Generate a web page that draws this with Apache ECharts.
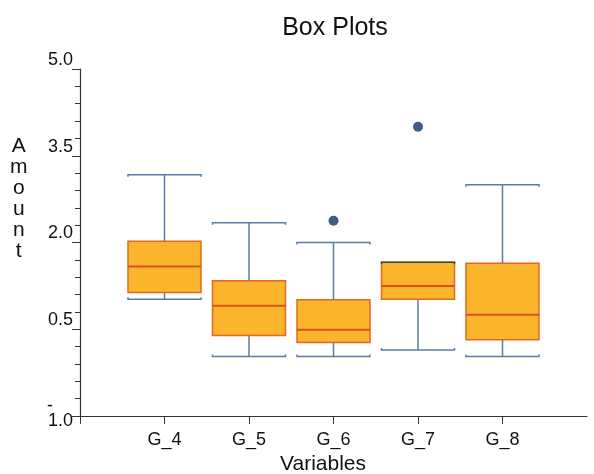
<!DOCTYPE html>
<html>
<head>
<meta charset="utf-8">
<script src="https://cdn.jsdelivr.net/npm/echarts@6/dist/echarts.min.js"></script>
<style>html,body{margin:0;padding:0;background:#fff;}#c{width:594px;height:474px;}</style>
</head>
<body>
<div id="c"></div>
<script>
// ---- data ----
var categories = ['G_4', 'G_5', 'G_6', 'G_7', 'G_8'];
var whiskerLow  = [1.02, 0.03, 0.03, 0.14, 0.03];
var q1Values    = [1.135, 0.39, 0.27, 1.02, 0.32];
var medians     = [1.585, 0.905, 0.49, 1.25, 0.75];
var q3Values    = [2.02, 1.34, 1.01, 1.66, 1.64];
var whiskerHigh = [3.17, 2.34, 2.0, 1.66, 3.0];
var outlierCats   = ['G_6', 'G_7'];
var outlierValues = [2.375, 4.0];
var yTicks = [-1.0, 0.5, 2.0, 3.5, 5.0];
var titleText = 'Box Plots';
var xTitle = 'Variables';
var yTitle = 'Amount';

// ---- build ----
var axisCats = [''].concat(categories).concat(['']);
var boxData = categories.map(function (c, i) {
  return [c, whiskerLow[i], q1Values[i], medians[i], q3Values[i], whiskerHigh[i]];
});
var outData = outlierCats.map(function (c, i) { return [c, outlierValues[i]]; });

var FONT = 'Liberation Sans, Arial, sans-serif';
var BOXW = 73;

function renderBox(params, api) {
  var x = api.value(0);
  var pMin = api.coord([x, api.value(1)]);
  var pQ1 = api.coord([x, api.value(2)]);
  var pMed = api.coord([x, api.value(3)]);
  var pQ3 = api.coord([x, api.value(4)]);
  var pMax = api.coord([x, api.value(5)]);
  var cx = pMed[0];
  var hw = BOXW / 2;
  var wStyle = { stroke: '#5a7ba6', lineWidth: 1.5, fill: null };
  var children = [
    { type: 'rect', shape: { x: cx - hw, y: pQ3[1], width: BOXW, height: pQ1[1] - pQ3[1] },
      style: { fill: '#fbb52c', stroke: '#e2691f', lineWidth: 1.5 } },
    { type: 'line', shape: { x1: cx - hw, y1: pMed[1], x2: cx + hw, y2: pMed[1] },
      style: { stroke: '#d9541c', lineWidth: 2 } },
    { type: 'line', shape: { x1: cx, y1: pQ3[1], x2: cx, y2: pMax[1] }, style: wStyle },
    { type: 'line', shape: { x1: cx, y1: pQ1[1], x2: cx, y2: pMin[1] }, style: wStyle },
    { type: 'polyline', shape: { points: [[cx - hw, pMax[1] + 2], [cx - hw, pMax[1]], [cx + hw, pMax[1]], [cx + hw, pMax[1] + 2]] },
      style: { stroke: pMax[1] === pQ3[1] ? '#3d4a4a' : '#5a7ba6', lineWidth: 1.5, fill: null } },
    { type: 'polyline', shape: { points: [[cx - hw, pMin[1] - 2], [cx - hw, pMin[1]], [cx + hw, pMin[1]], [cx + hw, pMin[1] - 2]] },
      style: wStyle }
  ];
  return { type: 'group', children: children };
}

var chart = echarts.init(document.getElementById('c'), null, { renderer: 'canvas' });
chart.setOption({
  animation: false,
  backgroundColor: '#ffffff',
  title: {
    text: titleText, left: 330, top: 11, textAlign: 'center',
    textStyle: { fontFamily: FONT, fontSize: 25, fontWeight: 'normal', color: '#111' }
  },
  graphic: [{
    type: 'text', left: 10, top: 136,
    style: { text: yTitle.split('').join('\n'), font: '21px ' + FONT, lineHeight: 21, textAlign: 'center', fill: '#111' }
  }],
  grid: { left: 80, right: 7, top: 69, bottom: 58, containLabel: false, outerBoundsMode: 'none' },
  xAxis: {
    type: 'category', data: axisCats, boundaryGap: false,
    name: xTitle, nameLocation: 'middle', nameGap: 37,
    nameTextStyle: { fontFamily: FONT, fontSize: 21, color: '#111', padding: [0, 21, 0, 0] },
    axisLine: { onZero: false, lineStyle: { color: '#333', width: 1.2 } },
    axisTick: { length: 8, lineStyle: { color: '#333' },
      interval: function (idx) { return idx < axisCats.length - 1; } },
    axisLabel: { fontFamily: FONT, fontSize: 18, color: '#111', margin: 15, interval: 0 },
    splitLine: { show: false }
  },
  yAxis: {
    type: 'value', min: yTicks[0], max: yTicks[yTicks.length - 1], interval: yTicks[1] - yTicks[0],
    axisLine: { show: true, lineStyle: { color: '#333', width: 1.2 } },
    axisTick: { show: true, length: 8, lineStyle: { color: '#333' } },
    minorTick: { show: true, splitNumber: 5, length: 5, lineStyle: { color: '#333' } },
    axisLabel: {
      fontFamily: FONT, fontSize: 18, color: '#111', margin: 7, verticalAlign: 'middle',
      formatter: function (v) {
        var s = v.toFixed(1);
        if (v < 0) return '{m|-}\n{n|' + s.replace('-', '') + '}';
        return '{a|' + s + '}';
      },
      rich: {
        a: { fontFamily: FONT, fontSize: 18, color: '#111', lineHeight: 19, padding: [0, 0, 18, 0] },
        m: { fontFamily: FONT, fontSize: 18, color: '#111', lineHeight: 19, padding: [0, 20, 0, 0] },
        n: { fontFamily: FONT, fontSize: 18, color: '#111', lineHeight: 19, padding: [0, 0, 9, 0] }
      }
    },
    splitLine: { show: false }
  },
  series: [
    { type: 'custom', renderItem: renderBox, data: boxData, encode: { x: 0, y: [1, 2, 3, 4, 5] }, z: 2 },
    { type: 'scatter', data: outData, symbol: 'circle', symbolSize: 10,
      itemStyle: { color: '#0e3566' }, z: 3 }
  ]
});
</script>
</body>
</html>
